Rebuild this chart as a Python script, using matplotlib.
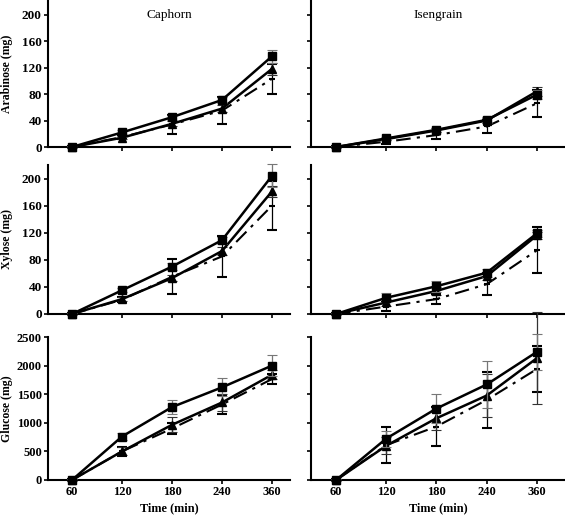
"""
Sugar release over time, Caphorn vs Isengrain
"""
import matplotlib
matplotlib.use("Agg")
import matplotlib.pyplot as plt

times = ['60', '120', '180', '240', '360']
varieties = ['Caphorn', 'Isengrain']
sugars = ['Arabinose (mg)', 'Xylose (mg)', 'Glucose (mg)']

# values: square line, triangle line, dash-dot line
arab_cap_sq = [0, 22, 45, 71, 137]
arab_cap_sq_err = [1, 3, 4, 4, 10]
arab_cap_tri = [0, 14, 35, 58, 118]
arab_cap_tri_err = [1, 2, 4, 5, 9]
arab_cap_dd = [0, 15, 34, 55, 103]
arab_cap_dd_err = [1, 3, 15, 20, 23]

arab_ise_sq = [0, 13, 26, 41, 79]
arab_ise_sq_err = [1, 2, 3, 4, 7]
arab_ise_tri = [0, 12, 25, 40, 84]
arab_ise_tri_err = [1, 2, 3, 4, 7]
arab_ise_dd = [0, 8, 18, 31, 66]
arab_ise_dd_err = [1, 3, 6, 10, 20]

xyl_cap_sq = [0, 35, 70, 109, 204]
xyl_cap_sq_err = [2, 3, 5, 5, 17]
xyl_cap_tri = [0, 22, 53, 93, 181]
xyl_cap_tri_err = [1, 3, 5, 6, 8]
xyl_cap_dd = [0, 21, 55, 85, 160]
xyl_cap_dd_err = [1, 4, 26, 30, 36]

xyl_ise_sq = [0, 24, 41, 61, 119]
xyl_ise_sq_err = [1, 7, 8, 6, 5]
xyl_ise_tri = [0, 17, 34, 56, 116]
xyl_ise_tri_err = [1, 5, 6, 6, 5]
xyl_ise_dd = [0, 11, 22, 44, 94]
xyl_ise_dd_err = [1, 6, 7, 16, 34]

glc_cap_sq = [0, 760, 1275, 1620, 2000]
glc_cap_sq_err = [10, 60, 115, 160, 190]
glc_cap_tri = [0, 500, 965, 1355, 1840]
glc_cap_tri_err = [10, 70, 130, 150, 80]
glc_cap_dd = [0, 500, 900, 1320, 1765]
glc_cap_dd_err = [10, 80, 90, 160, 80]

glc_ise_sq = [0, 725, 1250, 1670, 2240]
glc_ise_sq_err = [10, 140, 250, 410, 310]
glc_ise_tri = [0, 600, 1080, 1476, 2130]
glc_ise_tri_err = [10, 150, 200, 380, 800]
glc_ise_dd = [0, 610, 935, 1400, 1940]
glc_ise_dd_err = [10, 320, 340, 490, 400]

panels = [
    [(arab_cap_sq, arab_cap_sq_err, arab_cap_tri, arab_cap_tri_err, arab_cap_dd, arab_cap_dd_err),
     (arab_ise_sq, arab_ise_sq_err, arab_ise_tri, arab_ise_tri_err, arab_ise_dd, arab_ise_dd_err)],
    [(xyl_cap_sq, xyl_cap_sq_err, xyl_cap_tri, xyl_cap_tri_err, xyl_cap_dd, xyl_cap_dd_err),
     (xyl_ise_sq, xyl_ise_sq_err, xyl_ise_tri, xyl_ise_tri_err, xyl_ise_dd, xyl_ise_dd_err)],
    [(glc_cap_sq, glc_cap_sq_err, glc_cap_tri, glc_cap_tri_err, glc_cap_dd, glc_cap_dd_err),
     (glc_ise_sq, glc_ise_sq_err, glc_ise_tri, glc_ise_tri_err, glc_ise_dd, glc_ise_dd_err)],
]

ylims = [(0, 222), (0, 220), (0, 2500)]
yticks = [[0, 40, 80, 120, 160, 200], [0, 40, 80, 120, 160, 200],
          [0, 500, 1000, 1500, 2000, 2500]]

plt.rcParams['font.family'] = ['Liberation Serif', 'DejaVu Serif']

fig = plt.figure(figsize=(5.65, 5.16), dpi=100)

# [left, right] in px for columns, [top, bottom] in px for rows
cols = [(48, 290), (311, 565)]
rows = [(0, 147), (165, 314), (337, 480)]
W, H = 565.0, 516.0

x = list(range(len(times)))
for r, (top, bot) in enumerate(rows):
    for c, (lft, rgt) in enumerate(cols):
        ax = fig.add_axes([lft / W, 1 - bot / H, (rgt - lft) / W, (bot - top) / H])
        sq, sq_e, tri, tri_e, dd, dd_e = panels[r][c]

        ax.errorbar(x, dd, yerr=dd_e, color='black', lw=1.5, ls=(0, (7, 3, 1.5, 3)),
                    marker='_', ms=5, mew=1.5, ecolor='black', elinewidth=0.9,
                    capsize=3.5, capthick=0.8, clip_on=False, zorder=3)
        ax.errorbar(x, tri, yerr=tri_e, color='black', lw=1.8, marker='^', ms=5.5,
                    ecolor='#333333', elinewidth=0.9, capsize=3.5, capthick=0.8,
                    clip_on=False, zorder=4)
        ax.errorbar(x, sq, yerr=sq_e, color='black', lw=1.8, marker='s', ms=5.5,
                    ecolor='#777777', elinewidth=0.9, capsize=3.5, capthick=0.8,
                    clip_on=False, zorder=5)

        ax.set_ylim(*ylims[r])
        ax.set_yticks(yticks[r])
        ax.set_xlim(-0.48 if c == 0 else -0.5, 4.36 if c == 0 else 4.56)
        ax.set_xticks(x)
        for s in ['top', 'right']:
            ax.spines[s].set_visible(False)
        for s in ['left', 'bottom']:
            ax.spines[s].set_linewidth(1.5)
        ax.tick_params(direction='out', length=3, width=1.2,
                       labelsize=9 if r == 2 else 9.5, pad=1.5)

        if c == 0:
            ax.set_ylabel(sugars[r], fontsize=8.5, fontweight='bold')
            ax.yaxis.set_label_coords((13 - lft) / (rgt - lft), 0.5)
            for lab in ax.get_yticklabels():
                lab.set_fontweight('bold')
        else:
            ax.set_yticklabels([])

        if r == 2:
            ax.set_xticklabels(times, fontweight='bold')
            ax.set_xlabel('Time (min)', fontsize=8.8, fontweight='bold', labelpad=3)
        else:
            ax.set_xticklabels([])

        if r == 0:
            ax.text(0.5, 0.9, varieties[c], transform=ax.transAxes, ha='center',
                    va='center', fontsize=9.5)

fig.savefig('out.png', dpi=100)
